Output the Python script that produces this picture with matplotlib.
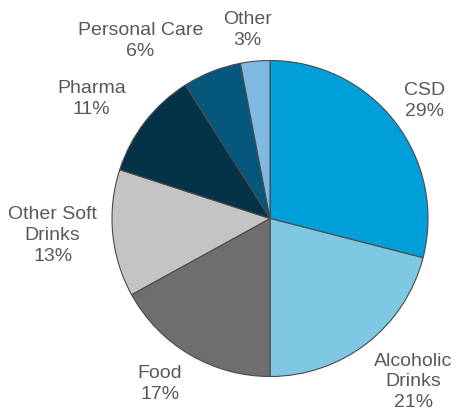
import numpy as np
import matplotlib
matplotlib.use("Agg")
import matplotlib.pyplot as plt

# Revenue split by end market
SEGMENTS = ["CSD", "Alcoholic\nDrinks", "Food", "Other Soft\nDrinks", "Pharma",
            "Personal Care", "Other"]
SHARES = [29, 21, 17, 13, 11, 6, 3]
COLORS = ["#009FD9", "#7EC8E3", "#6E6E6E", "#C4C4C4", "#043347", "#05587C", "#80B9E2"]

# label placement: (angle nudge in degrees, distance in radii)
LABEL_POS = [(-0.5, 1.23), (3.4, 1.375), (-3.0, 1.26), (-1.0, 1.38),
             (4.0, 1.36), (14.5, 1.39), (1.5, 1.20)]

R_PX = 158
CX, CY = 270, 218.5
W, H = 455, 418

fig = plt.figure(figsize=(W / 100, H / 100), dpi=100)
ax = fig.add_axes([0, 0, 1, 1])

wedges, _ = ax.pie(SHARES, colors=COLORS, startangle=90, counterclock=False,
                   wedgeprops=dict(edgecolor="#4a4a4a", linewidth=0.8))

for w, lab, pct, (dang, dist) in zip(wedges, SEGMENTS, SHARES, LABEL_POS):
    ang = np.deg2rad((w.theta1 + w.theta2) / 2 + dang)
    ax.text(dist * np.cos(ang), dist * np.sin(ang), f"{lab}\n{pct}%",
            ha="center", va="center", fontsize=14, color="#595959",
            family="Liberation Sans", linespacing=1.3)

ax.set_xlim(-CX / R_PX, (W - CX) / R_PX)
ax.set_ylim(-(H - CY) / R_PX, CY / R_PX)
ax.set_aspect("auto")
ax.axis("off")

fig.savefig("out.png", dpi=100)
plt.close(fig)
